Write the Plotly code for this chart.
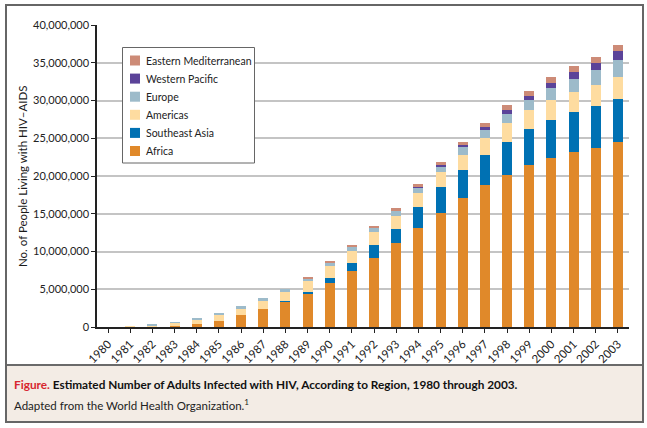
import plotly.graph_objects as go

years = [str(y) for y in range(1980, 2004)]

africa = [0, 0, 20000, 170000, 440000, 840000, 1590000, 2390000, 3320000, 4380000,
          5840000, 7440000, 9160000, 11160000, 13150000, 15140000, 17130000, 18860000,
          20190000, 21510000, 22440000, 23240000, 23770000, 24440000]
southeast_asia = [0, 0, 0, 0, 0, 0, 0, 0, 130000, 270000,
                  660000, 1060000, 1730000, 1850000, 2790000, 3460000, 3720000, 3980000,
                  4380000, 4650000, 4920000, 5180000, 5450000, 5710000]
americas = [0, 130000, 230000, 400000, 530000, 710000, 800000, 1060000, 1200000, 1460000,
            1600000, 1590000, 1710000, 1730000, 1860000, 1980000, 1990000, 2130000,
            2390000, 2530000, 2650000, 2660000, 2780000, 2920000]
europe = [0, 0, 20000, 20000, 130000, 310000, 400000, 400000, 400000, 260000,
          400000, 530000, 590000, 620000, 650000, 710000, 970000, 1100000,
          1190000, 1320000, 1600000, 1720000, 2000000, 2260000]
western_pacific = [0, 0, 0, 0, 0, 0, 0, 0, 0, 0,
                   0, 0, 0, 0, 120000, 130000, 270000, 360000,
                   540000, 530000, 660000, 930000, 930000, 1190000]
eastern_med = [0, 0, 0, 0, 0, 0, 0, 0, 0, 270000,
               130000, 140000, 220000, 440000, 420000, 450000, 490000, 530000,
               660000, 670000, 800000, 800000, 790000, 800000]

series = [
    ("Africa", africa, "#e0892a"),
    ("Southeast Asia", southeast_asia, "#0071b3"),
    ("Americas", americas, "#fedca0"),
    ("Europe", europe, "#9dbbca"),
    ("Western Pacific", western_pacific, "#5b4399"),
    ("Eastern Mediterranean", eastern_med, "#cd8b77"),
]

FONT = "Lato"

fig = go.Figure()
for name, vals, col in series:
    fig.add_trace(go.Bar(x=years, y=vals, name=name, showlegend=False,
                         marker=dict(color=col, line=dict(width=0))))

W, H = 647, 428
L, R, T, B = 97, 629, 25, 327
pw, ph = R - L, B - T

def px(x):
    return (x - L) / pw

def py(y):
    return (B - y) / ph

shapes = [
    dict(type="rect", xref="paper", yref="paper", x0=px(7), x1=px(642), y0=py(421), y1=py(365),
         fillcolor="#f3ece5", line=dict(width=0), layer="below"),
    dict(type="line", xref="paper", yref="paper", x0=px(7), x1=px(642), y0=py(365), y1=py(365),
         line=dict(color="#6a6a6a", width=2)),
    dict(type="rect", xref="paper", yref="paper", x0=px(6), x1=px(643), y0=py(422), y1=py(5),
         line=dict(color="#666666", width=2)),
    # legend box
    dict(type="rect", xref="paper", yref="paper", x0=px(122.5), x1=px(254.5), y0=py(163), y1=py(47.5),
         fillcolor="white", line=dict(color="#666666", width=1)),
]

annotations = [
    dict(text="No. of People Living with HIV\u2013AIDS", xref="paper", yref="paper",
         x=px(22), y=0.5, textangle=-90, showarrow=False, xanchor="center", yanchor="middle",
         font=dict(family=FONT, size=11.5, color="#1a1a1a")),
    dict(text="<b><span style='color:#d7262f'>Figure.</span> Estimated Number of Adults Infected with HIV, According to Region, 1980 through 2003.</b>",
         xref="paper", yref="paper", x=px(12), y=py(384), xanchor="left", yanchor="middle",
         showarrow=False, font=dict(family=FONT, size=11.8, color="#111111")),
    dict(text="Adapted from the World Health Organization.<sup>1</sup>",
         xref="paper", yref="paper", x=px(12), y=py(404), xanchor="left", yanchor="middle",
         showarrow=False, font=dict(family=FONT, size=11.5, color="#222222")),
]

# legend entries (top to bottom: reverse of stacking order)
for i, (name, vals, col) in enumerate(reversed(series)):
    cy = 60.5 + i * 18.1
    shapes.append(dict(type="rect", xref="paper", yref="paper", x0=px(130), x1=px(140),
                       y0=py(cy + 5), y1=py(cy - 5), fillcolor=col, line=dict(width=0)))
    annotations.append(dict(text=name, xref="paper", yref="paper", x=px(144), y=py(cy),
                            xanchor="left", yanchor="middle", showarrow=False,
                            font=dict(family=FONT, size=10.5, color="#222222")))

fig.update_layout(
    width=W, height=H,
    margin=dict(l=L, r=W - R, t=T, b=H - B, pad=0),
    paper_bgcolor="white", plot_bgcolor="white",
    barmode="stack", bargap=0.55, showlegend=False,
    font=dict(family=FONT, size=10, color="#222222"),
    shapes=shapes, annotations=annotations,
    xaxis=dict(type="category", range=[-0.5, 23.5], tickangle=-45, showline=True,
               linecolor="#222222", linewidth=2, ticks="outside", ticklen=4, tickcolor="#222222",
               tickfont=dict(family=FONT, size=11.5, color="#222222"), showgrid=False, fixedrange=True),
    yaxis=dict(range=[0, 40000000], tickvals=[0, 5000000, 10000000, 15000000, 20000000,
                                               25000000, 30000000, 35000000, 40000000],
               tickformat=",", showline=True, linecolor="#222222", linewidth=1.5,
               ticks="outside", ticklen=4, tickcolor="#222222",
               showgrid=True, gridcolor="#c4c4c4", gridwidth=1.5, zeroline=False,
               tickfont=dict(family=FONT, size=11, color="#222222"), fixedrange=True),
)

fig.write_html("out.html", config={"displayModeBar": False},
               post_script="document.body.style.margin='0';document.body.style.overflow='hidden';")
